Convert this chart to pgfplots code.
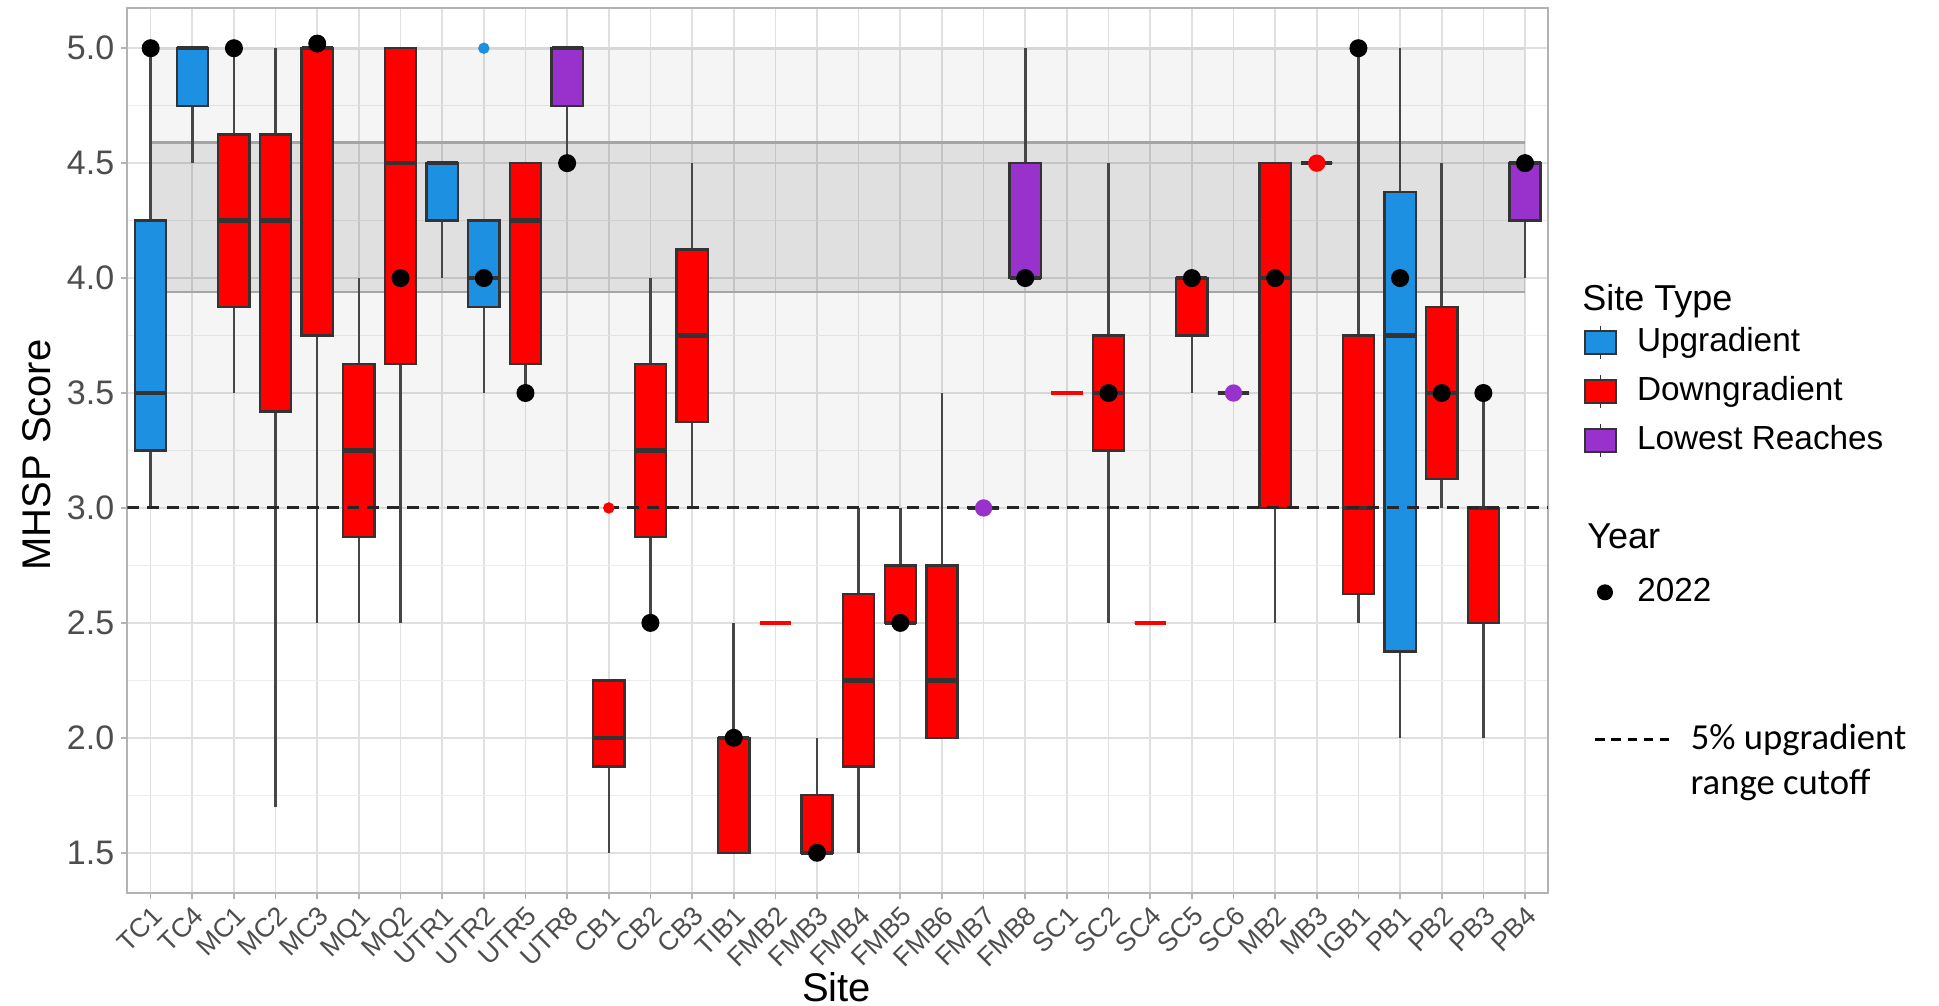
\documentclass[border=0pt]{standalone}
\usepackage{pgfplots}
\pgfplotsset{compat=1.18}
\usepgfplotslibrary{statistics}
\usepackage{fontspec}
\setmainfont{Liberation Sans}
\newfontfamily\calibri{Carlito}
\definecolor{upblue}{RGB}{30,144,226}
\definecolor{dnred}{RGB}{255,0,0}
\definecolor{lrpurple}{RGB}{153,50,204}
\definecolor{boxgray}{RGB}{51,51,51}
\definecolor{whisk}{RGB}{70,70,70}
\definecolor{grid87}{RGB}{224,224,224}
\definecolor{grid92}{RGB}{236,236,236}
\definecolor{gray70}{RGB}{179,179,179}
\definecolor{gray30}{RGB}{77,77,77}
\definecolor{bandline}{RGB}{165,165,165}
\definecolor{topline}{RGB}{215,215,215}
\pgfplotsset{
  bp/.style={/pgfplots/boxplot/box extend=0.75, /pgfplots/boxplot/whisker extend=0,
    /pgfplots/boxplot/draw direction=y,
    /pgfplots/boxplot/every median/.style={draw=boxgray, line width=1.3pt},
    /pgfplots/boxplot/every whisker/.style={draw=whisk, line width=0.75pt}},
  ub/.style={bp, draw=boxgray, /pgfplots/boxplot/every box/.style={fill=upblue, draw=boxgray, line width=0.7pt}},
  db/.style={bp, draw=boxgray, /pgfplots/boxplot/every box/.style={fill=dnred, draw=boxgray, line width=0.7pt}},
  lb/.style={bp, draw=boxgray, /pgfplots/boxplot/every box/.style={fill=lrpurple, draw=boxgray, line width=0.7pt}},
  rl/.style={bp, draw=dnred, /pgfplots/boxplot/every box/.style={draw=dnred, line width=0.7pt},
    /pgfplots/boxplot/every median/.style={draw=dnred, line width=1.3pt}},
  dummy/.style={at={(0pt,0pt)}, anchor=south west, width=581.7pt, height=301.8pt, scale only axis,
    hide axis, xmin=0, xmax=1, ymin=0, ymax=1},
}
\begin{document}
\begin{tikzpicture}
\useasboundingbox (0,0) rectangle (581.7pt,301.8pt);
\begin{axis}[
  at={(38.2pt,33.9pt)}, anchor=south west,
  width=426.3pt, height=265.5pt, scale only axis,
  xmin=0.44, xmax=34.56, ymin=1.325, ymax=5.175,
  boxplot/draw direction=y,
  xtick={1,...,34},
  xticklabels={TC1,TC4,MC1,MC2,MC3,MQ1,MQ2,UTR1,UTR2,UTR5,UTR8,CB1,CB2,CB3,TIB1,FMB2,FMB3,FMB4,FMB5,FMB6,FMB7,FMB8,SC1,SC2,SC4,SC5,SC6,MB2,MB3,IGB1,PB1,PB2,PB3,PB4},
  ytick={1.5,2,2.5,3,3.5,4,4.5,5},
  yticklabels={1.5,2.0,2.5,3.0,3.5,4.0,4.5,5.0},
  minor ytick={1.75,2.25,2.75,3.25,3.75,4.25,4.75},
  xmajorgrids, ymajorgrids, yminorgrids,
  major grid style={draw=grid87, line width=0.5pt},
  minor grid style={draw=grid92, line width=0.3pt},
  axis line style={draw=gray70, line width=0.6pt},
  major tick style={draw=gray70, line width=0.5pt},
  minor tick length=0pt, major tick length=1.8pt,
  tick align=outside, tick pos=left,
  yticklabel style={font=\fontsize{10.2}{12}\selectfont, text=gray30, xshift=1.4pt},
  xticklabel style={font=\fontsize{8}{9.6}\selectfont, text=gray30, rotate=45, anchor=north east, inner sep=1pt},
]
% background bands
\addplot[draw=none, fill=black, fill opacity=0.04] coordinates {(1,3) (34,3) (34,5) (1,5)} -- cycle;
\addplot[draw=none, fill=black, fill opacity=0.085] coordinates {(1,3.94) (34,3.94) (34,4.59) (1,4.59)} -- cycle;
\addplot[topline, line width=0.8pt] coordinates {(1,5) (34,5)};
\addplot[bandline, line width=0.9pt] coordinates {(1,4.59) (34,4.59)};
\addplot[bandline, line width=0.7pt] coordinates {(1,3.94) (34,3.94)};
% boxplots
\addplot[ub, boxplot prepared={draw position=1, lower whisker=3, lower quartile=3.25, median=3.5, upper quartile=4.25, upper whisker=5}] coordinates {};
\addplot[ub, boxplot prepared={draw position=2, lower whisker=4.5, lower quartile=4.75, median=5, upper quartile=5, upper whisker=5}] coordinates {};
\addplot[db, boxplot prepared={draw position=3, lower whisker=3.5, lower quartile=3.875, median=4.25, upper quartile=4.625, upper whisker=5}] coordinates {};
\addplot[db, boxplot prepared={draw position=4, lower whisker=1.7, lower quartile=3.42, median=4.25, upper quartile=4.625, upper whisker=5}] coordinates {};
\addplot[db, boxplot prepared={draw position=5, lower whisker=2.5, lower quartile=3.75, median=5, upper quartile=5, upper whisker=5}] coordinates {};
\addplot[db, boxplot prepared={draw position=6, lower whisker=2.5, lower quartile=2.875, median=3.25, upper quartile=3.625, upper whisker=4}] coordinates {};
\addplot[db, boxplot prepared={draw position=7, lower whisker=2.5, lower quartile=3.625, median=4.5, upper quartile=5, upper whisker=5}] coordinates {};
\addplot[ub, boxplot prepared={draw position=8, lower whisker=4, lower quartile=4.25, median=4.5, upper quartile=4.5, upper whisker=4.5}] coordinates {};
\addplot[ub, boxplot prepared={draw position=9, lower whisker=3.5, lower quartile=3.875, median=4, upper quartile=4.25, upper whisker=4.25}] coordinates {};
\addplot[db, boxplot prepared={draw position=10, lower whisker=3.5, lower quartile=3.625, median=4.25, upper quartile=4.5, upper whisker=4.5}] coordinates {};
\addplot[lb, boxplot prepared={draw position=11, lower whisker=4.5, lower quartile=4.75, median=5, upper quartile=5, upper whisker=5}] coordinates {};
\addplot[db, boxplot prepared={draw position=12, lower whisker=1.5, lower quartile=1.875, median=2, upper quartile=2.25, upper whisker=2.25}] coordinates {};
\addplot[db, boxplot prepared={draw position=13, lower whisker=2.5, lower quartile=2.875, median=3.25, upper quartile=3.625, upper whisker=4}] coordinates {};
\addplot[db, boxplot prepared={draw position=14, lower whisker=3, lower quartile=3.375, median=3.75, upper quartile=4.125, upper whisker=4.5}] coordinates {};
\addplot[db, boxplot prepared={draw position=15, lower whisker=1.5, lower quartile=1.5, median=2, upper quartile=2, upper whisker=2.5}] coordinates {};
\addplot[rl, boxplot prepared={draw position=16, lower whisker=2.5, lower quartile=2.5, median=2.5, upper quartile=2.5, upper whisker=2.5}] coordinates {};
\addplot[db, boxplot prepared={draw position=17, lower whisker=1.5, lower quartile=1.5, median=1.5, upper quartile=1.75, upper whisker=2}] coordinates {};
\addplot[db, boxplot prepared={draw position=18, lower whisker=1.5, lower quartile=1.875, median=2.25, upper quartile=2.625, upper whisker=3}] coordinates {};
\addplot[db, boxplot prepared={draw position=19, lower whisker=2.5, lower quartile=2.5, median=2.5, upper quartile=2.75, upper whisker=3}] coordinates {};
\addplot[db, boxplot prepared={draw position=20, lower whisker=2, lower quartile=2, median=2.25, upper quartile=2.75, upper whisker=3.5}] coordinates {};
\addplot[lb, boxplot prepared={draw position=21, lower whisker=3, lower quartile=3, median=3, upper quartile=3, upper whisker=3}] coordinates {};
\addplot[lb, boxplot prepared={draw position=22, lower whisker=4, lower quartile=4, median=4, upper quartile=4.5, upper whisker=5}] coordinates {};
\addplot[rl, boxplot prepared={draw position=23, lower whisker=3.5, lower quartile=3.5, median=3.5, upper quartile=3.5, upper whisker=3.5}] coordinates {};
\addplot[db, boxplot prepared={draw position=24, lower whisker=2.5, lower quartile=3.25, median=3.5, upper quartile=3.75, upper whisker=4.5}] coordinates {};
\addplot[rl, boxplot prepared={draw position=25, lower whisker=2.5, lower quartile=2.5, median=2.5, upper quartile=2.5, upper whisker=2.5}] coordinates {};
\addplot[db, boxplot prepared={draw position=26, lower whisker=3.5, lower quartile=3.75, median=4, upper quartile=4, upper whisker=4}] coordinates {};
\addplot[lb, boxplot prepared={draw position=27, lower whisker=3.5, lower quartile=3.5, median=3.5, upper quartile=3.5, upper whisker=3.5}] coordinates {};
\addplot[db, boxplot prepared={draw position=28, lower whisker=2.5, lower quartile=3, median=4, upper quartile=4.5, upper whisker=4.5}] coordinates {};
\addplot[db, boxplot prepared={draw position=29, lower whisker=4.5, lower quartile=4.5, median=4.5, upper quartile=4.5, upper whisker=4.5}] coordinates {};
\addplot[db, boxplot prepared={draw position=30, lower whisker=2.5, lower quartile=2.625, median=3, upper quartile=3.75, upper whisker=5}] coordinates {};
\addplot[ub, boxplot prepared={draw position=31, lower whisker=2, lower quartile=2.375, median=3.75, upper quartile=4.375, upper whisker=5}] coordinates {};
\addplot[db, boxplot prepared={draw position=32, lower whisker=3, lower quartile=3.125, median=3.5, upper quartile=3.875, upper whisker=4.5}] coordinates {};
\addplot[db, boxplot prepared={draw position=33, lower whisker=2, lower quartile=2.5, median=3, upper quartile=3, upper whisker=3.5}] coordinates {};
\addplot[lb, boxplot prepared={draw position=34, lower whisker=4, lower quartile=4.25, median=4.5, upper quartile=4.5, upper whisker=4.5}] coordinates {};
% 5% cutoff line
\addplot[black!85, line width=0.9pt, dash pattern=on 3.6pt off 2.4pt] coordinates {(0.44,3) (34.56,3)};
% outliers
\addplot[only marks, mark=*, mark size=1.5pt, upblue] coordinates {(9,5)};
\addplot[only marks, mark=*, mark size=1.5pt, dnred] coordinates {(12,3)};
\addplot[only marks, mark=*, mark size=2.4pt, lrpurple] coordinates {(21,3) (27,3.5)};
\addplot[only marks, mark=*, mark size=2.4pt, dnred] coordinates {(29,4.5)};
% 2022 values
\addplot[only marks, mark=*, mark size=2.5pt, black] coordinates {
(1,5) (3,5) (5,5.02) (7,4) (9,4) (10,3.5) (11,4.5) (13,2.5) (15,2) (17,1.5)
(19,2.5) (22,4) (24,3.5) (26,4) (28,4) (30,5) (31,4) (32,3.5) (33,3.5) (34,4.5)};
\end{axis}
% legend: site type
\begin{axis}[dummy,
  legend style={at={(0.8164,0.6110)}, anchor=west, draw=none, fill=none, inner sep=0pt,
    font=\fontsize{10}{12}\selectfont, row sep=4.3pt, column sep=6pt, nodes={inner sep=0pt}},
  legend cell align=left,
  legend image code/.code={\draw[#1] (0pt,-3.4pt) rectangle (9.4pt,3.4pt);
    \draw[boxgray, line width=0.4pt] (4.7pt,3.4pt) -- (4.7pt,5pt) (4.7pt,-3.4pt) -- (4.7pt,-5pt);}]
\addlegendimage{fill=upblue, draw=boxgray, line width=0.6pt}
\addlegendentry{Upgradient\vphantom{Upg}}
\addlegendimage{fill=dnred, draw=boxgray, line width=0.6pt}
\addlegendentry{Downgradient\vphantom{Upg}}
\addlegendimage{fill=lrpurple, draw=boxgray, line width=0.6pt}
\addlegendentry{Lowest Reaches\vphantom{Upg}}
\end{axis}
% legend: year
\begin{axis}[dummy,
  legend style={at={(0.8236,0.4112)}, anchor=west, draw=none, fill=none, inner sep=0pt,
    font=\fontsize{10}{12}\selectfont, column sep=7.5pt, nodes={inner sep=0pt}},
  legend cell align=left]
\addlegendimage{only marks, mark=*, mark size=2.2pt, black}
\addlegendentry{2022}
\end{axis}
% legend: cutoff
\begin{axis}[dummy,
  legend style={at={(0.8216,0.2647)}, anchor=west, draw=none, fill=none, inner sep=0pt,
    font=\calibri\fontsize{11}{13}\selectfont, column sep=6pt, nodes={inner sep=0pt}},
  legend cell align=left,
  legend image code/.code={\draw[#1] (0pt,0pt) -- (22.2pt,0pt);}]
\addlegendimage{black, line width=0.9pt, dash pattern=on 2.8pt off 2.05pt}
\addlegendentry{5\% upgradient}
\end{axis}
\node[anchor=west, inner sep=0pt, font=\calibri\fontsize{11}{13}\selectfont] at (507pt,66.4pt) {range cutoff};
\node[anchor=west, font=\fontsize{10.8}{13}\selectfont, inner sep=0pt] at (474.5pt,211.3pt) {Site Type};
\node[anchor=west, font=\fontsize{10.8}{13}\selectfont, inner sep=0pt] at (476pt,140.9pt) {Year};
\node[rotate=90, font=\fontsize{12}{14}\selectfont] at (11.1pt,165.3pt) {MHSP Score};
\node[font=\fontsize{12}{14}\selectfont] at (251pt,5.7pt) {Site};
\end{tikzpicture}
\end{document}
